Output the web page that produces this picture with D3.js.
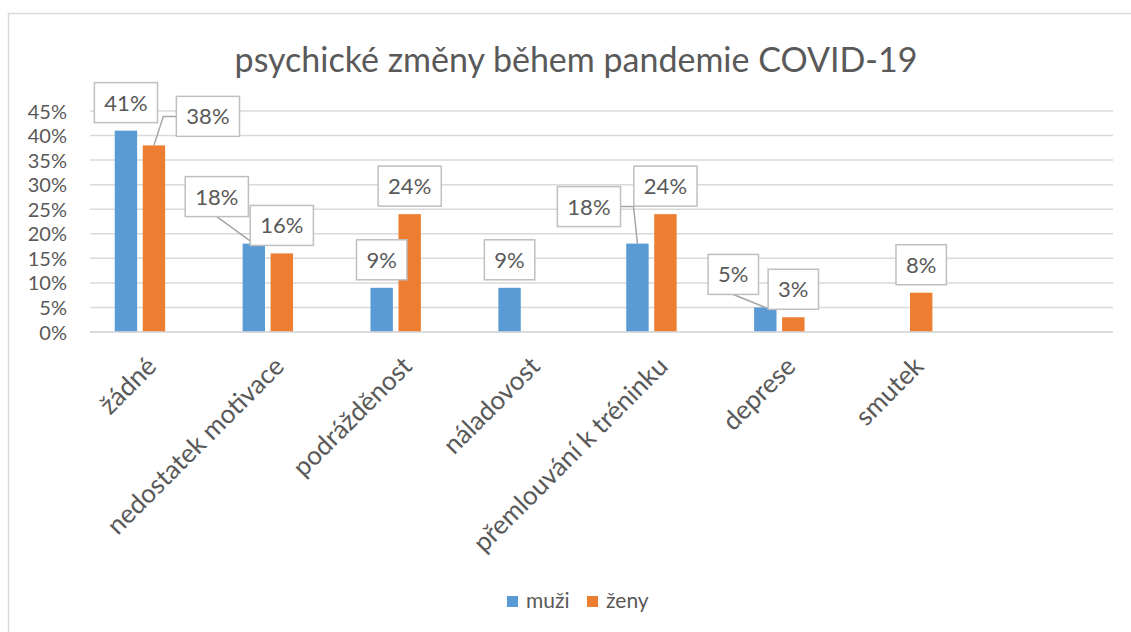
<!DOCTYPE html>
<html>
<head>
<meta charset="utf-8">
<script src="https://cdn.jsdelivr.net/npm/d3@7"></script>
<style>
  html, body { margin: 0; padding: 0; background: #fff; }
  svg { display: block; font-family: Lato, "Open Sans", sans-serif; }
</style>
</head>
<body>
<svg id="chart" width="1131" height="632"></svg>
<script>
// ---- data ----
const title = "psychické změny během pandemie COVID-19";
const categories = ["žádné", "nedostatek motivace", "podrážděnost", "náladovost",
                    "přemlouvání k tréninku", "deprese", "smutek", ""];
const seriesNames = ["muži", "ženy"];
const muzi = [41, 18, 9, 9, 18, 5, null, null];
const zeny = [38, 16, 24, null, 24, 3, 8, null];
const yTicks = [0, 5, 10, 15, 20, 25, 30, 35, 40, 45];

// ---- layout / style (not data) ----
const W = 1131, H = 632;
const plot = { left: 90, right: 1113, top: 111, bottom: 332 };
const colors = { "muži": "#5b9bd5", "ženy": "#ed7d31" };
const textColor = "#595959";
const gridColor = "#d9d9d9";
// manually dragged data-label callouts (pixel nudges from default position)
const labelNudge = {
  "ženy|žádné": { dx: 54, dy: -1 },
  "muži|nedostatek motivace": { dx: -37, dy: -19 },
  "muži|přemlouvání k tréninku": { dx: -48.5, dy: -9 },
  "muži|deprese": { dx: -32, dy: -5 }
};

const svg = d3.select("#chart");

// outer chart border
svg.append("rect")
  .attr("x", 8.5).attr("y", 13.5)
  .attr("width", W + 10).attr("height", H + 10)
  .attr("fill", "#fff").attr("stroke", "#d9d9d9").attr("stroke-width", 1.5);

const x0 = d3.scaleBand().domain(categories).range([plot.left, plot.right]).paddingInner(0).paddingOuter(0);
// Excel reserves a third (empty) series slot in each cluster
const x1 = d3.scaleBand().domain([...seriesNames, "_empty"]).range([0, x0.bandwidth()])
  .paddingInner(0.2).paddingOuter(0.884);
const y = d3.scaleLinear().domain([0, 45]).range([plot.bottom, plot.top]);

// title
svg.append("text")
  .attr("x", 576).attr("y", 72)
  .attr("text-anchor", "middle")
  .attr("font-size", 34)
  .attr("fill", textColor)
  .text(title);

// gridlines
const yAxis = d3.axisLeft(y).tickValues(yTicks).tickSize(0).tickFormat(d => d + "%");
const gridG = svg.append("g");
gridG.selectAll("line").data(yTicks).join("line")
  .attr("x1", plot.left).attr("x2", plot.right)
  .attr("y1", d => y(d)).attr("y2", d => y(d))
  .attr("stroke", gridColor).attr("stroke-width", 1.5);

const yG = svg.append("g").attr("transform", `translate(${plot.left - 23},0)`).call(yAxis);
yG.select(".domain").remove();
yG.selectAll("text").attr("font-size", 20).attr("fill", textColor)
  .attr("font-family", "Lato, sans-serif").attr("dy", "0.35em").attr("x", 0);

// bars
const rows = [];
categories.forEach((c, i) => {
  rows.push({ series: "muži", cat: c, v: muzi[i] });
  rows.push({ series: "ženy", cat: c, v: zeny[i] });
});
const barData = rows.filter(d => d.v != null);

svg.append("g").selectAll("rect").data(barData).join("rect")
  .attr("x", d => x0(d.cat) + x1(d.series))
  .attr("y", d => y(d.v))
  .attr("width", x1.bandwidth())
  .attr("height", d => y(0) - y(d.v))
  .attr("fill", d => colors[d.series]);

// x axis line
svg.append("line")
  .attr("x1", plot.left).attr("x2", plot.right)
  .attr("y1", plot.bottom).attr("y2", plot.bottom)
  .attr("stroke", gridColor).attr("stroke-width", 1.5);

// x category labels (rotated)
const xAxis = d3.axisBottom(x0).tickSize(0).tickPadding(0);
const xG = svg.append("g").attr("transform", `translate(0,${plot.bottom})`).call(xAxis);
xG.select(".domain").remove();
xG.selectAll(".tick text")
  .attr("font-size", 26).attr("fill", textColor).attr("font-family", "Lato, sans-serif")
  .attr("text-anchor", "end")
  .attr("y", 0).attr("dy", 0)
  .attr("transform", "translate(4,36) rotate(-45)");

// data labels with callout boxes
const labelG = svg.append("g");
const leaderG = svg.append("g");
barData.forEach(d => {
  const cx = x0(d.cat) + x1(d.series) + x1.bandwidth() / 2;
  const top = y(d.v);
  const nudge = labelNudge[d.series + "|" + d.cat] || { dx: 0, dy: 0 };
  const g = labelG.append("g");
  const t = g.append("text")
    .attr("font-size", 22).attr("fill", textColor)
    .attr("text-anchor", "middle")
    .text(d.v + "%");
  const tw = t.node().getComputedTextLength();
  const bw = tw + 20, bh = 40;
  const bcx = cx + nudge.dx;
  const bBottom = top - 8 + nudge.dy;
  const bx = bcx - bw / 2, by = bBottom - bh;
  g.insert("rect", "text")
    .attr("x", bx).attr("y", by).attr("width", bw).attr("height", bh)
    .attr("fill", "#fff").attr("stroke", "#bfbfbf").attr("stroke-width", 1.5);
  t.attr("x", bcx).attr("y", by + bh / 2 + 8);

  if (nudge.dx !== 0 || nudge.dy !== 0) {
    let pts;
    if (cx < bx - 10) {
      const my = by + bh / 2;
      pts = [[bx, my], [bx - 13, my], [cx, top]];
    } else if (cx > bx + bw + 10) {
      const my = by + bh / 2;
      pts = [[bx + bw, my], [bx + bw + 13, my], [cx, top]];
    } else {
      pts = [[bcx, by + bh], [cx, top]];
    }
    leaderG.append("path")
      .attr("d", d3.line()(pts))
      .attr("fill", "none").attr("stroke", "#a6a6a6").attr("stroke-width", 1.5);
  }
});
labelG.raise();

// legend
const legend = svg.append("g");
const legendItems = [{ name: "muži", x: 507 }, { name: "ženy", x: 587 }];
legendItems.forEach(it => {
  legend.append("rect").attr("x", it.x).attr("y", 596).attr("width", 11).attr("height", 11)
    .attr("fill", colors[it.name]);
  legend.append("text").attr("x", it.x + 19).attr("y", 608)
    .attr("font-size", 21).attr("fill", textColor).text(it.name);
});
</script>
</body>
</html>
